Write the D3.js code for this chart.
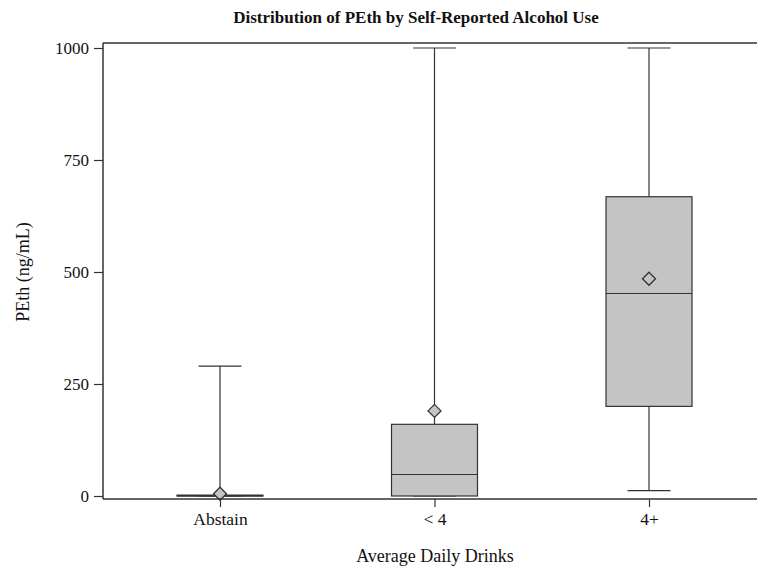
<!DOCTYPE html>
<html>
<head>
<meta charset="utf-8">
<script src="https://cdn.jsdelivr.net/npm/d3@7"></script>
<style>
  body { margin: 0; background: #fff; }
  svg { display: block; }
</style>
</head>
<body>
<div id="chart"></div>
<script>
// Box plot data
const categories = ['Abstain', '< 4', '4+'];
const whiskerLow = [0, 0, 12];
const q1 = [0, 0, 200];
const median = [0, 48, 452];
const q3 = [2, 160, 668];
const whiskerHigh = [290, 1000, 1000];
const means = [5, 190, 485];
const yTicks = [0, 250, 500, 750, 1000];

const W = 757, H = 572;
const plotL = 103, plotT = 43, plotR = 766, plotB = 499;

const svg = d3.select('#chart').append('svg')
  .attr('width', W).attr('height', H);

const x = d3.scalePoint().domain(categories).range([220, 649]);
const y = d3.scaleLinear().domain([0, 1000]).range([496, 48]);

const ink = '#333';
const font = '"Liberation Serif", "Times New Roman", serif';

// Frame
svg.append('line').attr('x1', plotL).attr('x2', plotR).attr('y1', plotT).attr('y2', plotT)
  .attr('stroke', ink).attr('stroke-width', 1.5);

// Boxes
const boxW = 86, capW = 43;
categories.forEach((c, i) => {
  const cx = x(c);
  const g = svg.append('g');
  // whisker lines
  g.append('line').attr('x1', cx).attr('x2', cx)
    .attr('y1', y(q3[i])).attr('y2', y(whiskerHigh[i]))
    .attr('stroke', ink).attr('stroke-width', 1.2);
  g.append('line').attr('x1', cx).attr('x2', cx)
    .attr('y1', y(q1[i])).attr('y2', y(whiskerLow[i]))
    .attr('stroke', ink).attr('stroke-width', 1.2);
  // caps
  [whiskerHigh[i], whiskerLow[i]].forEach(v => {
    g.append('line').attr('x1', cx - capW / 2).attr('x2', cx + capW / 2)
      .attr('y1', y(v)).attr('y2', y(v))
      .attr('stroke', ink).attr('stroke-width', 1.2);
  });
  // box
  g.append('rect').attr('x', cx - boxW / 2).attr('width', boxW)
    .attr('y', y(q3[i])).attr('height', Math.max(y(q1[i]) - y(q3[i]), 0.5))
    .attr('fill', '#c4c4c4').attr('stroke', ink).attr('stroke-width', 1.2);
  // median
  g.append('line').attr('x1', cx - boxW / 2).attr('x2', cx + boxW / 2)
    .attr('y1', y(median[i])).attr('y2', y(median[i]))
    .attr('stroke', ink).attr('stroke-width', 1.2);
  // mean diamond
  const my = y(means[i]), d = 6.5;
  g.append('path')
    .attr('d', `M${cx},${my - d}L${cx + d},${my}L${cx},${my + d}L${cx - d},${my}Z`)
    .attr('fill', '#c4c4c4').attr('stroke', ink).attr('stroke-width', 1.3);
});

// Y axis
const yAxis = svg.append('g').attr('transform', `translate(${plotL},0)`)
  .call(d3.axisLeft(y).tickValues(yTicks).tickSize(9).tickPadding(5).tickFormat(d3.format('d')));
yAxis.select('.domain').attr('d', `M0,${plotT}V${plotB}`).attr('stroke', ink).attr('stroke-width', 1.5);
yAxis.selectAll('.tick line').attr('stroke', ink).attr('stroke-width', 1.2);
yAxis.selectAll('.tick text').style('font-family', font).style('font-size', '17px').attr('fill', '#111');

// X axis
const xAxis = svg.append('g').attr('transform', `translate(0,${plotB})`)
  .call(d3.axisBottom(x).tickSize(8).tickPadding(6));
xAxis.select('.domain').attr('d', `M${plotL},0H${plotR}`).attr('stroke', ink).attr('stroke-width', 1.5);
xAxis.selectAll('.tick line').attr('stroke', ink).attr('stroke-width', 1.2);
xAxis.selectAll('.tick text').style('font-family', font).style('font-size', '17.5px').attr('fill', '#111');

// Title and labels
svg.append('text').attr('x', 416).attr('y', 23).attr('text-anchor', 'middle')
  .style('font-family', font).style('font-weight', 'bold').style('font-size', '17px')
  .attr('fill', '#111').text('Distribution of PEth by Self-Reported Alcohol Use');

svg.append('text').attr('x', 435).attr('y', 562).attr('text-anchor', 'middle')
  .style('font-family', font).style('font-size', '18px').attr('fill', '#111')
  .text('Average Daily Drinks');

svg.append('text').attr('transform', 'translate(29,272) rotate(-90)')
  .attr('text-anchor', 'middle')
  .style('font-family', font).style('font-size', '18px').attr('fill', '#111')
  .text('PEth (ng/mL)');
</script>
</body>
</html>
